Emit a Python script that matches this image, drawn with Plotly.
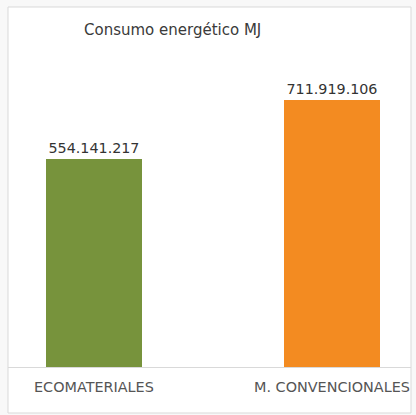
import plotly.graph_objects as go

# Energy consumption per material type (MJ)
categories = ["ECOMATERIALES", "M. CONVENCIONALES"]
consumo_mj = [554141217, 711919106]
bar_colors = ["#77933c", "#f38b21"]

W, H = 416, 415
plot_left, plot_right = 8, 411
plot_top, plot_bottom = 67, 367
plot_h = plot_bottom - plot_top

fig = go.Figure(
    go.Bar(
        x=categories,
        y=consumo_mj,
        marker=dict(color=bar_colors, line=dict(width=0)),
        width=0.405,
        texttemplate="%{y:,.0f}",
        textposition="outside",
        textfont=dict(family="DejaVu Sans", size=14.3, color="#333333"),
        cliponaxis=False,
        hoverinfo="skip",
    )
)

# chart frame (light grey border around the chart area)
fig.add_shape(
    type="rect", xref="paper", yref="paper",
    x0=0, x1=1,
    y0=-(415 - 2 - plot_bottom) / plot_h, y1=1 + (plot_top - 7) / plot_h,
    line=dict(color="#d9d9d9", width=1), fillcolor="white", layer="below",
)

fig.add_annotation(
    text="Consumo energético MJ", xref="paper", yref="paper",
    x=(172 - plot_left) / (plot_right - plot_left),
    y=1 + (plot_top - 30) / plot_h,
    xanchor="center", yanchor="middle", showarrow=False,
    font=dict(family="DejaVu Sans", size=15, color="#3a3a3a"),
)

fig.update_layout(
    width=W, height=H,
    margin=dict(l=plot_left, r=W - plot_right, t=plot_top, b=H - plot_bottom, pad=0),
    paper_bgcolor="#f8f8f8",
    plot_bgcolor="white",
    separators=",.",
    showlegend=False,
    bargap=0,
)
fig.update_xaxes(
    type="category",
    range=[-0.361, 1.332],
    showline=True, linecolor="#d9d9d9", linewidth=1,
    showgrid=False, ticks="", ticklabelstandoff=7,
    tickfont=dict(family="DejaVu Sans", size=14.4, color="#555555"),
)
fig.update_yaxes(
    range=[0, 800e6],
    visible=False, showgrid=False, zeroline=False,
)

fig.write_html("out.html")
